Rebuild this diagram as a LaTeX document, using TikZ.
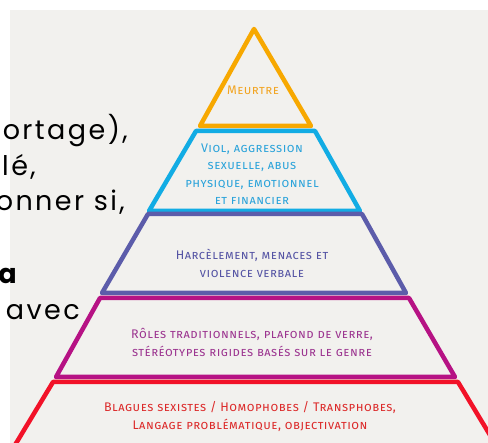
\documentclass[tikz,border=0pt]{standalone}
\usepackage{fontspec}
\newfontfamily\popfont[LetterSpace=9]{Poppins}
\newfontfamily\pyrfont[Letters=SmallCaps,LetterSpace=4]{Fira Sans}
\definecolor{bggray}{RGB}{242,241,238}
\definecolor{cOrange}{RGB}{247,168,0}
\definecolor{cBlue}{RGB}{18,172,228}
\definecolor{cPurple}{RGB}{92,92,170}
\definecolor{cMagenta}{RGB}{182,18,132}
\definecolor{cRed}{RGB}{242,18,40}
\definecolor{tOrange}{RGB}{242,165,34}
\definecolor{tBlue}{RGB}{43,163,218}
\definecolor{tPurple}{RGB}{85,84,164}
\definecolor{tMagenta}{RGB}{156,53,144}
\definecolor{tRed}{RGB}{220,42,42}
\tikzset{
  layer/.style={line width=4.5pt, line join=round},
  pyrtext/.style={font=\pyrfont\fontsize{12.5}{18}\selectfont, align=center, inner sep=0pt},
  sidetext/.style={font=\popfont\fontsize{27}{36}\selectfont, anchor=base east, inner sep=0pt, text=black}
}
\begin{document}
\begin{tikzpicture}[x=1pt,y=-1pt]
\useasboundingbox (0,0) rectangle (488,443);
\clip (0,0) rectangle (488,443);
\fill[bggray] (10,10) rectangle (492,447);
% layers
\draw[layer, cOrange] (254,29) -- (311,126) -- (200,126) -- cycle;
\draw[layer, cBlue] (196,131) -- (315,131) -- (360,211) -- (149,211) -- cycle;
\draw[layer, cPurple] (148,214) -- (362,214) -- (406,293) -- (102,293) -- cycle;
\draw[layer, cMagenta] (100,298) -- (409,298) -- (455,377) -- (56,377) -- cycle;
\draw[layer, cRed] (12,450) -- (53,382) -- (458,382) -- (499,450);
% labels
\node[pyrtext, text=tOrange] (meurtre) at (253,90) {Meurtre};
\node[pyrtext, text=tBlue, font=\pyrfont\fontsize{12.5}{17.5}\selectfont] (viol) at (252,174.5) {Viol, aggression\\sexuelle, abus\\physique, emotionnel\\et financier};
\node[pyrtext, text=tPurple] (harc) at (252,263) {Harcèlement, menaces et\\violence verbale};
\node[pyrtext, text=tMagenta] (roles) at (252,342) {Rôles traditionnels, plafond de verre,\\stéréotypes rigides basés sur le genre};
\node[pyrtext, text=tRed] (blagues) at (250,416) {Blagues sexistes / Homophobes / Transphobes,\\Langage problématique, objectivation};
% side text
\node[sidetext] (l1) at (128,140) {ortage),};
\node[sidetext] (l2) at (36,176) {lé,};
\node[sidetext] (l3) at (125,211) {onner si,};
\node[sidetext, font=\popfont\bfseries\fontsize{27}{36}\selectfont] (l4) at (17,284) {a};
\node[sidetext] (l5) at (80,320) {avec};
\end{tikzpicture}
\end{document}
